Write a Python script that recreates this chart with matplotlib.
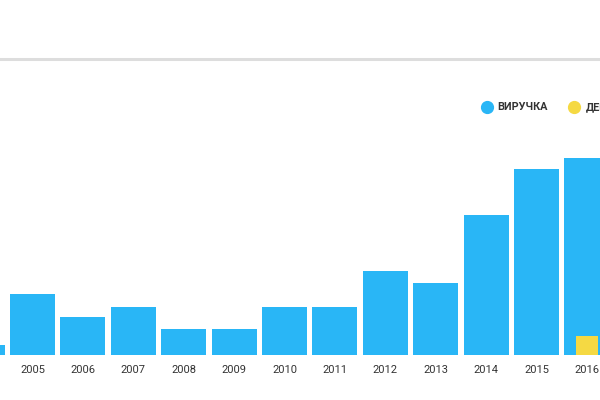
import numpy as np
import matplotlib

matplotlib.use("Agg")
import matplotlib.pyplot as plt
from matplotlib.lines import Line2D

# values (arbitrary units)
years = [2004, 2005, 2006, 2007, 2008, 2009, 2010, 2011, 2012, 2013, 2014, 2015, 2016]
revenue = [5, 30.5, 19, 24, 13, 13, 24, 24, 42, 36, 70, 93, 98.5]
dividends_years = [2016]
dividends = [9.5]
year_labels = [str(y) for y in years]

blue = "#29b6f6"
yellow = "#f5d943"
text_color = "#333333"

plt.rcParams["font.family"] = ["Roboto", "DejaVu Sans"]

fig = plt.figure(figsize=(6, 4), dpi=100)
ax = fig.add_axes([0, 45 / 400.0, 1, 200 / 400.0])

ax.bar(years, revenue, width=0.893, color=blue, zorder=2)
ax.bar(dividends_years, dividends, width=0.437, color=yellow, zorder=3)
ax.axhline(0, color="#eeeeee", lw=0.8, zorder=1)

ax.set_xticks(years)
ax.set_xticklabels(year_labels, fontsize=8, color=text_color)
ax.tick_params(axis="x", length=0, pad=7)
ax.set_yticks([])
for s in ax.spines.values():
    s.set_visible(False)

# set limits after the ticks, otherwise set_xticks widens them
# pixel 0 -> 2004.355, pixel 600 -> 2016.26
ax.set_xlim(2005 - 32.5 / 50.4, 2005 + 567.5 / 50.4)
ax.set_ylim(0, 100)

# grey separator line across the top
fig.add_artist(Line2D([0, 1], [1 - 58.5 / 400, 1 - 58.5 / 400], color="#dddddd", lw=2.2))

# legend (cut off at the right edge, like the original)
ly = 1 - 107 / 400.0
fig.add_artist(Line2D([487 / 600.0], [ly], marker="o", ms=8.5, color=blue, lw=0))
fig.text(497 / 600.0, ly, "ВИРУЧКА", fontsize=7.8, fontweight="bold", color=text_color, va="center")
fig.add_artist(Line2D([574 / 600.0], [ly], marker="o", ms=8.5, color=yellow, lw=0))
fig.text(586 / 600.0, ly, "ДЕБІТОРКА", fontsize=7.8, fontweight="bold", color=text_color, va="center")

fig.savefig("out.png", dpi=100)
